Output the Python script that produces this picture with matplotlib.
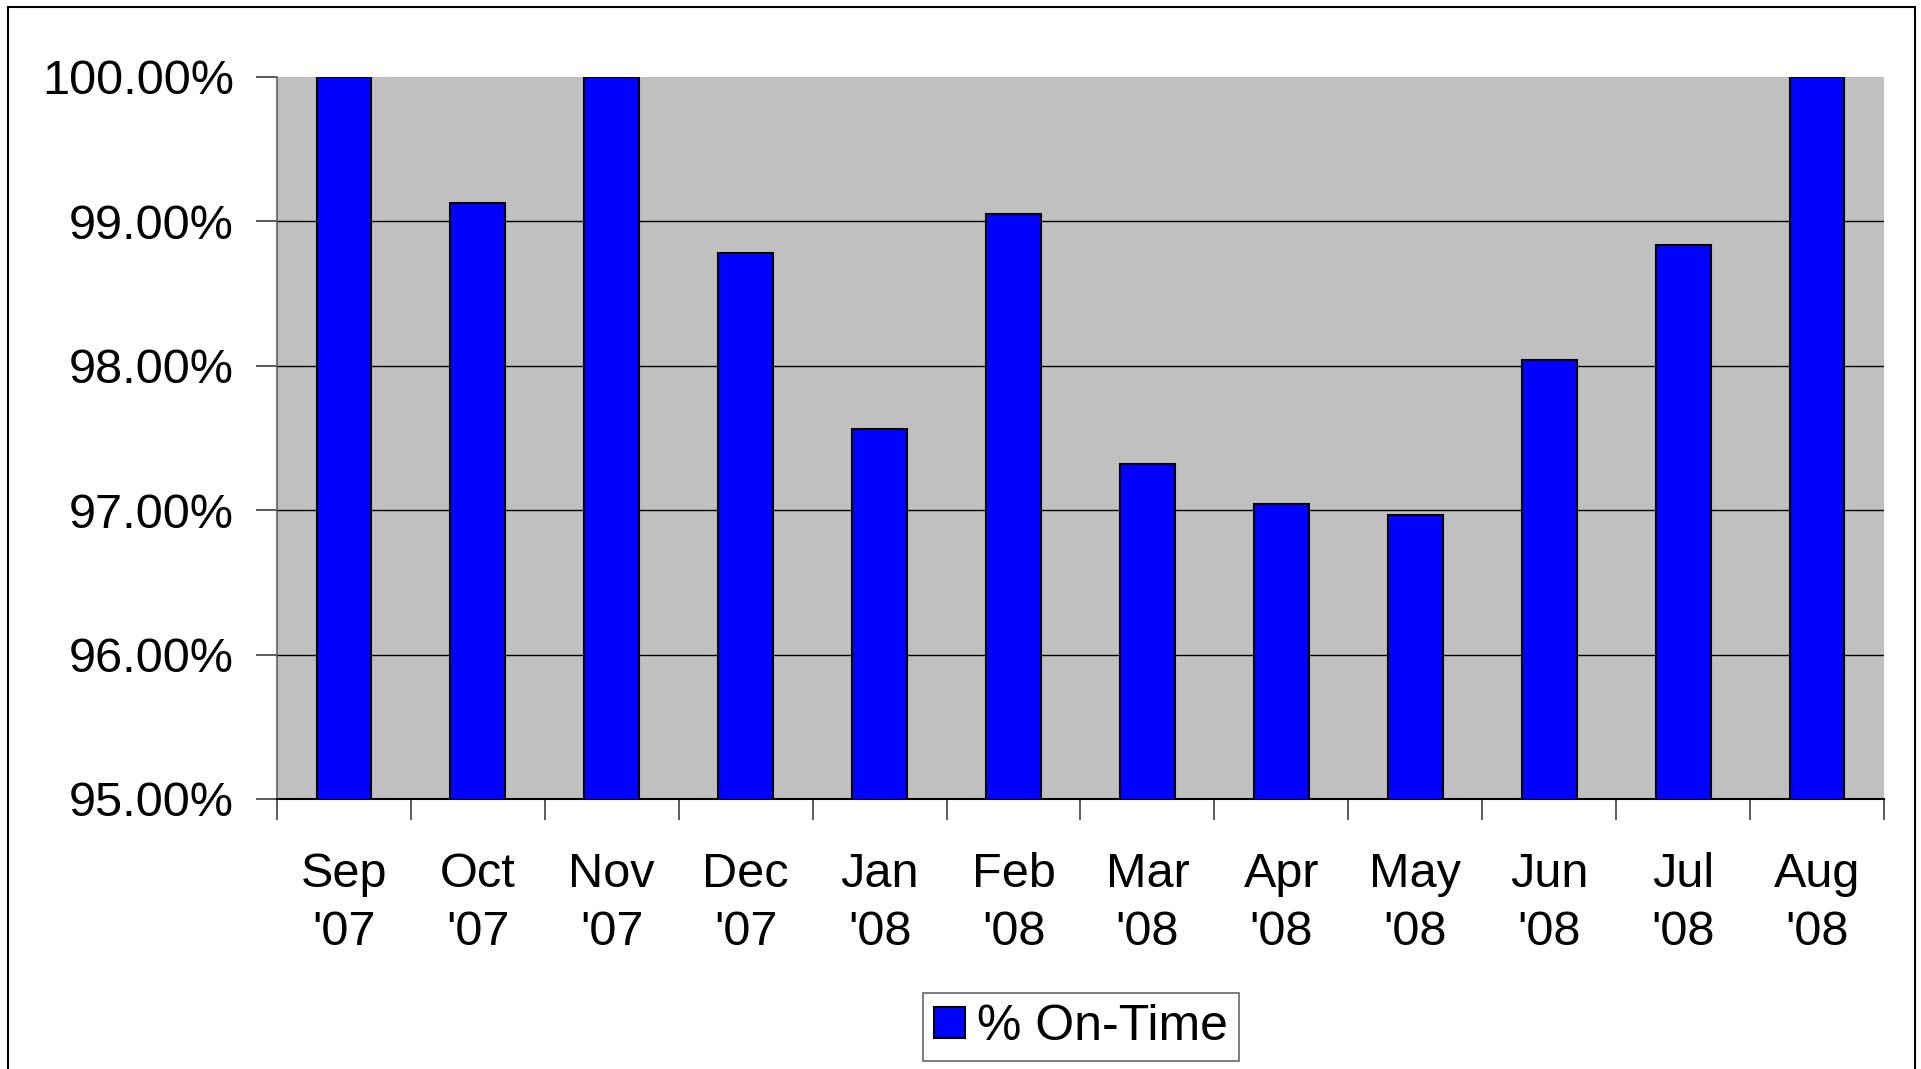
import matplotlib
matplotlib.use("Agg")
import matplotlib.pyplot as plt
from matplotlib.patches import Rectangle
from matplotlib.ticker import FuncFormatter

months = ["Sep\n'07", "Oct\n'07", "Nov\n'07", "Dec\n'07", "Jan\n'08", "Feb\n'08",
          "Mar\n'08", "Apr\n'08", "May\n'08", "Jun\n'08", "Jul\n'08", "Aug\n'08"]
on_time = [100.00, 99.13, 100.00, 98.78, 97.56, 99.05,
           97.32, 97.04, 96.97, 98.04, 98.84, 100.00]
series_name = "% On-Time"
y_ticks = [95, 96, 97, 98, 99, 100]

plt.rcParams['font.family'] = ['Liberation Sans', 'DejaVu Sans']

W, H = 1921, 1069
fig = plt.figure(figsize=(W / 100, H / 100), dpi=100)
ax = fig.add_axes([277 / W, 1 - 799 / H, (1884 - 277) / W, (799 - 77) / H])
ax.set_facecolor('#C0C0C0')

x = list(range(len(months)))
ax.bar(x, on_time, width=0.41, color='#0000FF', edgecolor='black', linewidth=1.5,
       label=series_name, zorder=3)

ax.set_ylim(95, 100)
ax.set_xlim(-0.5, len(months) - 0.5)
ax.set_yticks(y_ticks)
ax.yaxis.set_major_formatter(FuncFormatter(lambda v, p: f"{v:.2f}%"))
ax.set_xticks(x)
ax.set_xticklabels(months, linespacing=1.38)
ax.set_xticks([i - 0.5 for i in range(len(months) + 1)], minor=True)
ax.tick_params(axis='x', which='major', length=0, pad=38, labelsize=35)
ax.tick_params(axis='x', which='minor', length=15, width=1.2, color='#404040', direction='out')
ax.tick_params(axis='y', length=15, width=1.2, color='#404040', pad=16, labelsize=35, direction='out')

ax.yaxis.grid(True, color='black', linewidth=1.0, zorder=1)
ax.set_axisbelow(True)
gl = ax.yaxis.get_gridlines()
gl[-1].set_visible(False)
gl[0].set_visible(False)

for s in ['top', 'right']:
    ax.spines[s].set_visible(False)
ax.spines['left'].set_color('#606060')
ax.spines['left'].set_linewidth(1.2)
ax.spines['bottom'].set_color('black')
ax.spines['bottom'].set_linewidth(1.5)

leg = fig.legend(loc='center', bbox_to_anchor=((922 + 1240) / 2 / W, 1 - (996 + 1058) / 2 / H),
                 fontsize=36, frameon=True, fancybox=False, edgecolor='#404040',
                 handlelength=0.62, handleheight=0.6, handletextpad=0.25,
                 borderpad=0.22, borderaxespad=0)
leg.get_frame().set_linewidth(1.2)

fig.patches.append(Rectangle((8 / W, -0.01), (1915 - 8) / W, 1 + 0.01 - 7 / H,
                             transform=fig.transFigure, fill=False,
                             edgecolor='black', linewidth=1.5))

fig.savefig('out.png', dpi=100)
